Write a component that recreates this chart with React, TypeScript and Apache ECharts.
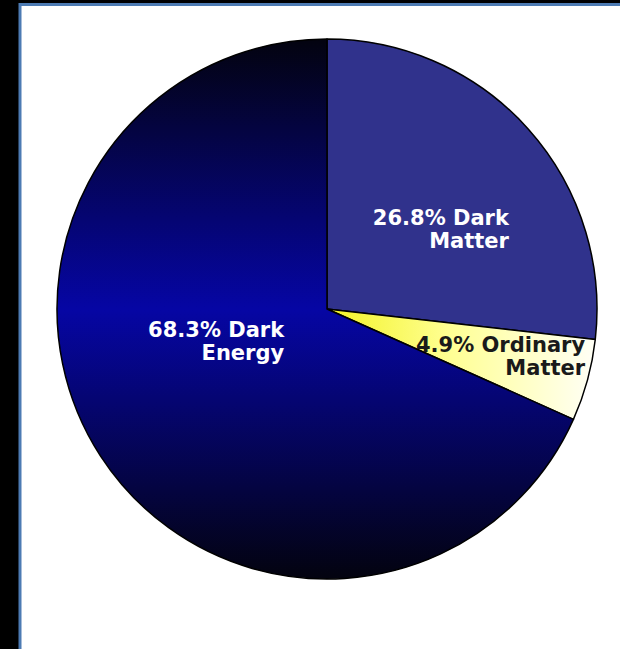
import React, { useEffect, useRef } from "react";
import * as echarts from "echarts";

const categories = ["Dark Matter", "Ordinary Matter", "Dark Energy"];
const values = [26.8, 4.9, 68.3];
const labelColors = ["#ffffff", "#1a1a1a", "#ffffff"];
const labelShifts: [number, number][] = [
  [79, 12],
  [125, 11],
  [73, -43],
];

export default function App() {
  const ref = useRef<HTMLDivElement>(null);
  useEffect(() => {
    if (!ref.current) return;
    const chart = echarts.init(ref.current, null, { renderer: "svg" });
    const fills: any[] = [
      "#30328c",
      new echarts.graphic.LinearGradient(0, 0, 1, 0, [
        { offset: 0, color: "#f2f224" },
        { offset: 0.45, color: "#ffff92" },
        { offset: 1, color: "#fffff6" },
      ]),
      new echarts.graphic.LinearGradient(0, 0, 0, 1, [
        { offset: 0, color: "#03030f" },
        { offset: 0.5, color: "#0606a4" },
        { offset: 1, color: "#03030f" },
      ]),
    ];
    chart.setOption({
      animation: false,
      backgroundColor: "#000000",
      graphic: [
        {
          type: "rect",
          shape: { x: 20, y: 4.5, width: 640, height: 700 },
          style: { fill: "#ffffff", stroke: "#4d7bb3", lineWidth: 3 },
          z: -10,
        },
      ],
      series: [
        {
          type: "pie",
          center: [327, 309],
          radius: [0, 270],
          startAngle: 90,
          clockwise: true,
          silent: true,
          itemStyle: { borderColor: "#000000", borderWidth: 1.5 },
          label: {
            show: true,
            position: "inside",
            fontFamily: "DejaVu Sans",
            fontWeight: "bold",
            fontSize: 21,
            lineHeight: 23,
            formatter: (p: any) => `${p.value}% ${String(p.name).replace(" ", "\n")}`,
          },
          labelLayout: (p: any) => ({
            align: "right",
            verticalAlign: "middle",
            dx: labelShifts[p.dataIndex][0],
            dy: labelShifts[p.dataIndex][1],
          }),
          labelLine: { show: false },
          data: categories.map((name, i) => ({
            name,
            value: values[i],
            itemStyle: { color: fills[i] },
            label: { color: labelColors[i] },
          })),
        },
      ],
    });
    return () => chart.dispose();
  }, []);
  return (
    <div
      ref={ref}
      style={{ position: "fixed", left: 0, top: 0, width: 620, height: 649 }}
    />
  );
}
